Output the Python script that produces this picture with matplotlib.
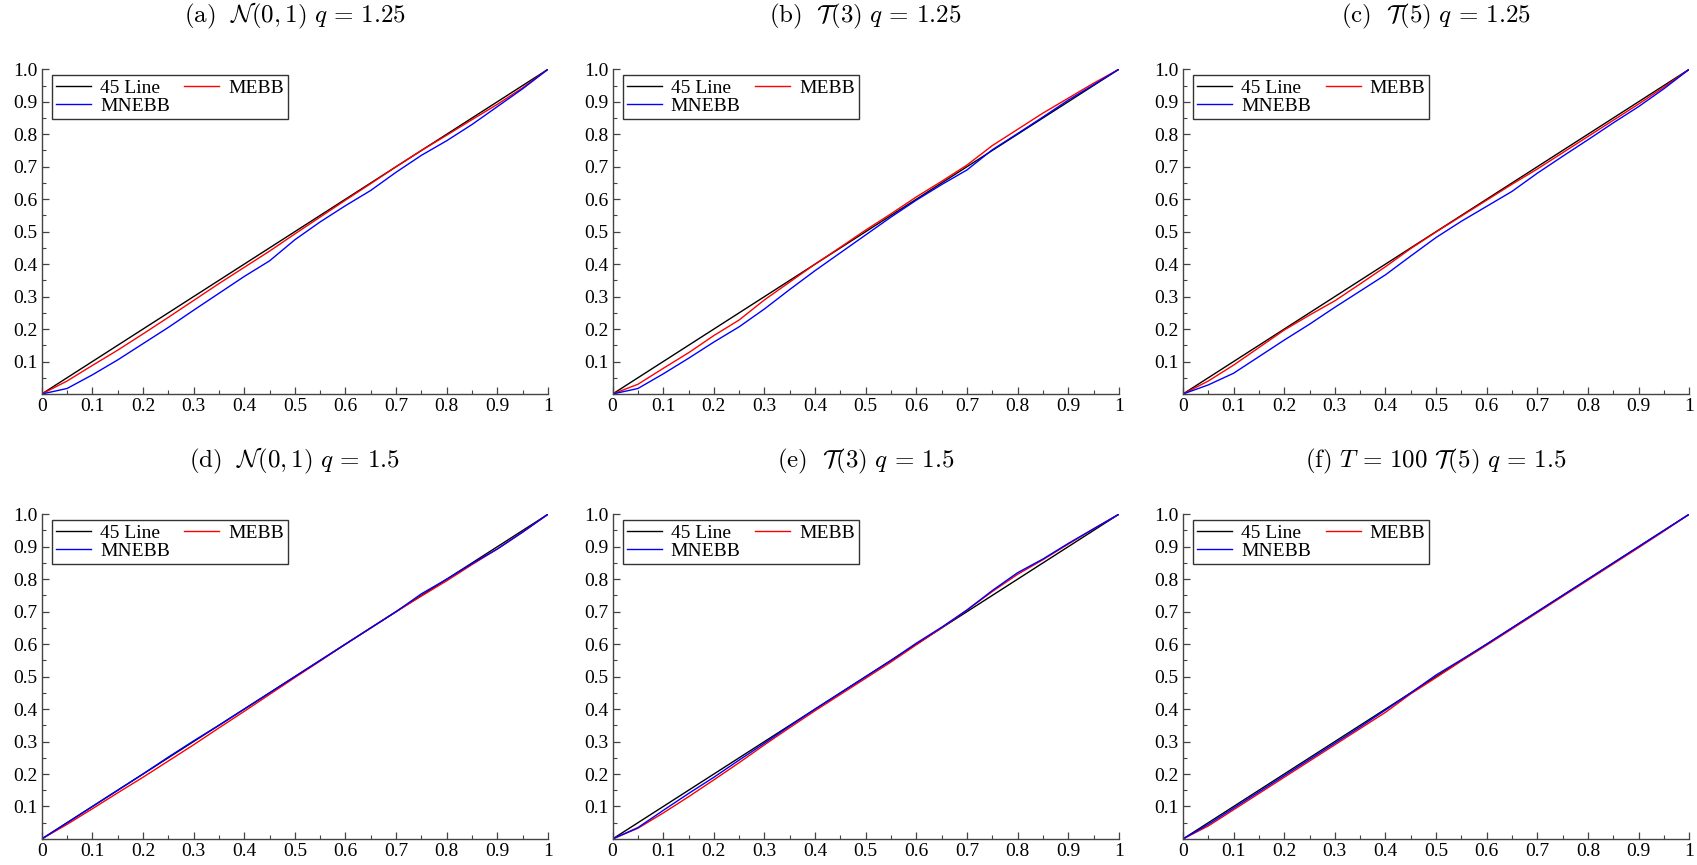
import numpy as np
import matplotlib
matplotlib.use("Agg")
import matplotlib.pyplot as plt
from matplotlib.ticker import MultipleLocator, FixedLocator, FixedFormatter

plt.rcParams['font.family'] = ['Liberation Serif', 'DejaVu Serif']
plt.rcParams['mathtext.fontset'] = 'cm'

# common x grid (0, 0.05, ..., 1)
x_grid = [0.0, 0.05, 0.1, 0.15, 0.2, 0.25, 0.3, 0.35, 0.4, 0.45, 0.5,
          0.55, 0.6, 0.65, 0.7, 0.75, 0.8, 0.85, 0.9, 0.95, 1.0]

titles = [r"$\mathrm{(a)}\ \ \mathcal{N}(0,1)\ q\,=\,1.25$",
          r"$\mathrm{(b)}\ \ \mathcal{T}(3)\ q\,=\,1.25$",
          r"$\mathrm{(c)}\ \ \mathcal{T}(5)\ q\,=\,1.25$",
          r"$\mathrm{(d)}\ \ \mathcal{N}(0,1)\ q\,=\,1.5$",
          r"$\mathrm{(e)}\ \ \mathcal{T}(3)\ q\,=\,1.5$",
          r"$\mathrm{(f)}\ T\,=\,100\ \mathcal{T}(5)\ q\,=\,1.5$"]

mebb_a = [0, 0.04, 0.088, 0.135, 0.185, 0.236, 0.288, 0.34, 0.39, 0.44, 0.493,
          0.545, 0.597, 0.648, 0.70, 0.75, 0.797, 0.845, 0.892, 0.943, 1]
mnebb_a = [0, 0.017, 0.059, 0.105, 0.155, 0.205, 0.258, 0.31, 0.362, 0.41, 0.475,
           0.53, 0.58, 0.627, 0.683, 0.735, 0.78, 0.83, 0.885, 0.94, 1]

mebb_b = [0, 0.03, 0.079, 0.127, 0.18, 0.228, 0.29, 0.345, 0.40, 0.452, 0.505,
          0.555, 0.607, 0.655, 0.705, 0.765, 0.815, 0.865, 0.911, 0.957, 1]
mnebb_b = [0, 0.017, 0.062, 0.11, 0.16, 0.207, 0.262, 0.322, 0.38, 0.435, 0.49,
           0.545, 0.597, 0.645, 0.69, 0.752, 0.802, 0.853, 0.905, 0.952, 1]

mebb_c = [0, 0.04, 0.089, 0.143, 0.197, 0.243, 0.287, 0.339, 0.392, 0.448, 0.499,
          0.548, 0.597, 0.646, 0.693, 0.743, 0.793, 0.843, 0.893, 0.945, 1]
mnebb_c = [0, 0.028, 0.064, 0.115, 0.166, 0.215, 0.267, 0.317, 0.367, 0.425, 0.482,
           0.532, 0.578, 0.624, 0.68, 0.732, 0.783, 0.835, 0.885, 0.94, 1]

mebb_d = [0, 0.045, 0.093, 0.142, 0.19, 0.24, 0.29, 0.342, 0.393, 0.445, 0.497,
          0.548, 0.6, 0.65, 0.7, 0.748, 0.795, 0.845, 0.893, 0.945, 1]
mnebb_d = [0, 0.05, 0.1, 0.15, 0.2, 0.252, 0.302, 0.35, 0.4, 0.45, 0.5,
           0.55, 0.6, 0.65, 0.7, 0.755, 0.8, 0.848, 0.893, 0.945, 1]

mebb_e = [0, 0.033, 0.08, 0.13, 0.182, 0.235, 0.29, 0.343, 0.395, 0.445, 0.495,
          0.545, 0.598, 0.65, 0.705, 0.762, 0.815, 0.86, 0.908, 0.955, 1]
mnebb_e = [0, 0.035, 0.088, 0.14, 0.19, 0.243, 0.295, 0.348, 0.4, 0.45, 0.5,
           0.55, 0.603, 0.652, 0.705, 0.765, 0.82, 0.862, 0.91, 0.955, 1]

mebb_f = [0, 0.04, 0.09, 0.14, 0.19, 0.24, 0.29, 0.34, 0.39, 0.447, 0.497,
          0.548, 0.597, 0.647, 0.697, 0.747, 0.797, 0.847, 0.897, 0.948, 1]
mnebb_f = [0, 0.045, 0.095, 0.145, 0.195, 0.245, 0.295, 0.345, 0.397, 0.45, 0.505,
           0.552, 0.6, 0.65, 0.7, 0.75, 0.8, 0.85, 0.9, 0.95, 1]

mebb_all = [mebb_a, mebb_b, mebb_c, mebb_d, mebb_e, mebb_f]
mnebb_all = [mnebb_a, mnebb_b, mnebb_c, mnebb_d, mnebb_e, mnebb_f]

x_ticks = [0, 0.1, 0.2, 0.3, 0.4, 0.5, 0.6, 0.7, 0.8, 0.9, 1.0]
x_ticklabels = ["0", "0.1", "0.2", "0.3", "0.4", "0.5", "0.6", "0.7", "0.8", "0.9", "1"]
y_ticks = [0.1, 0.2, 0.3, 0.4, 0.5, 0.6, 0.7, 0.8, 0.9, 1.0]
y_ticklabels = ["0.1", "0.2", "0.3", "0.4", "0.5", "0.6", "0.7", "0.8", "0.9", "1.0"]

fig = plt.figure(figsize=(16.97, 8.65), dpi=100)

lefts = [0.0246, 0.3610, 0.6971]
bottoms = [0.5445, 0.0301]
w, h = 0.2983, 0.3754

for i in range(6):
    r, c = divmod(i, 3)
    ax = fig.add_axes([lefts[c], bottoms[r], w, h])
    l45, = ax.plot([0, 1], [0, 1], color='black', lw=1.0)
    lme, = ax.plot(x_grid, mebb_all[i], color='red', lw=1.0)
    lmn, = ax.plot(x_grid, mnebb_all[i], color='blue', lw=1.0)
    ax.set_xlim(0, 1)
    ax.set_ylim(0, 1)
    for s in ['top', 'right']:
        ax.spines[s].set_visible(False)
    for s in ['left', 'bottom']:
        ax.spines[s].set_color('#444444')
        ax.spines[s].set_linewidth(1.0)
    ax.xaxis.set_major_locator(FixedLocator(x_ticks))
    ax.xaxis.set_major_formatter(FixedFormatter(x_ticklabels))
    ax.yaxis.set_major_locator(FixedLocator(y_ticks))
    ax.yaxis.set_major_formatter(FixedFormatter(y_ticklabels))
    ax.xaxis.set_minor_locator(MultipleLocator(0.05))
    ax.yaxis.set_minor_locator(MultipleLocator(0.05))
    ax.tick_params(which='major', direction='in', length=5, width=0.9,
                   color='#444444', labelsize=14, pad=3)
    ax.tick_params(which='minor', direction='in', length=3, width=0.8,
                   color='#444444')
    ax.set_title(titles[i], fontsize=18, pad=34)
    leg = ax.legend([l45, lmn, lme], ["45 Line", "MNEBB", "MEBB"], ncol=2,
                    loc='upper left', bbox_to_anchor=(0.02, 0.982),
                    fontsize=14, frameon=True, fancybox=False,
                    borderpad=0.22, labelspacing=0.0, columnspacing=0.75,
                    handlelength=1.8, handletextpad=0.45, borderaxespad=0.0)
    leg.get_frame().set_edgecolor('black')
    leg.get_frame().set_linewidth(1.0)

fig.savefig("out.png", dpi=100)
